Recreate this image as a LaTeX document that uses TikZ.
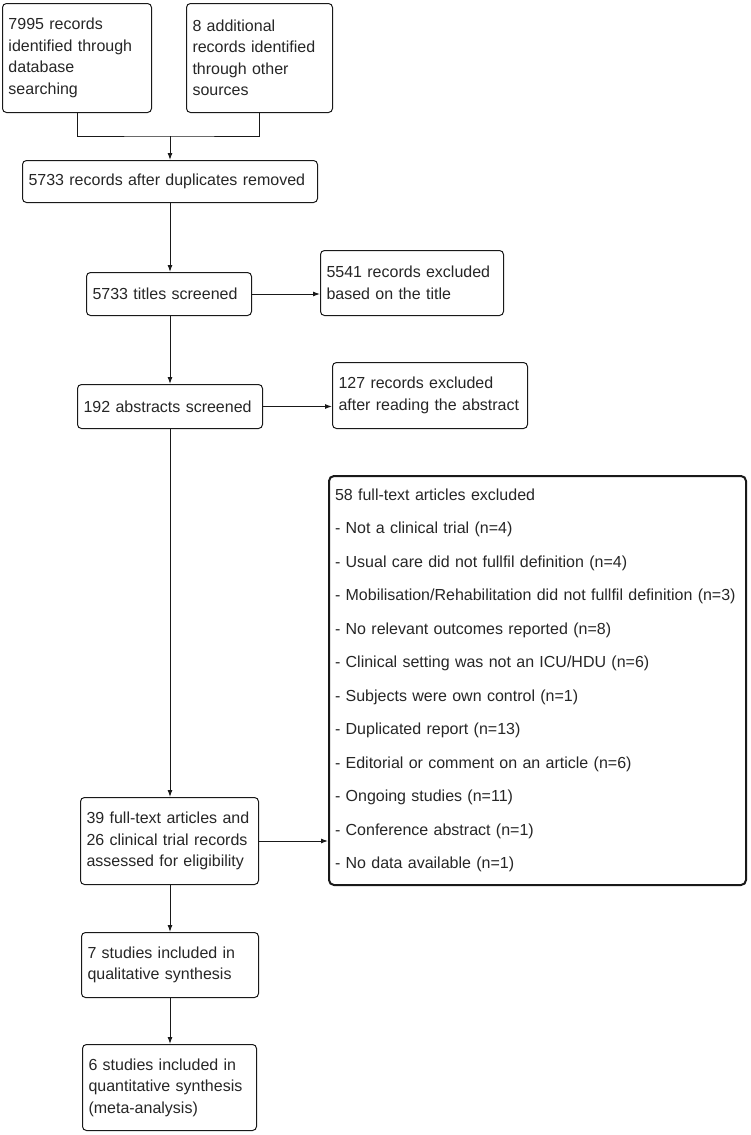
\documentclass[tikz,border=0pt]{standalone}
\usepackage{fontspec}
\setmainfont{Liberation Sans}
\usetikzlibrary{arrows.meta}

\begin{document}
\begin{tikzpicture}[x=1pt, y=-1pt, >={Latex[length=7pt,width=5pt]},
    box/.style={draw=black!90, line width=1pt, rounded corners=4pt, anchor=north west, align=left,
        inner xsep=6pt, inner ysep=4pt, text=black!85,
        font=\fontsize{16}{21.5}\selectfont},
    bigbox/.style={box, line width=2pt, rounded corners=5pt,
        font=\fontsize{16}{33.5}\selectfont},
    flow/.style={->, draw=black!90, line width=1pt}]

    \useasboundingbox (0,0) rectangle (750,1135);

    % === Identification ===
    \node[box, text width=137pt, minimum height=109pt] (dbsearch) at (2,3)
        {7995 records\\identified through\\database\\searching};
    \node[box, text width=134pt, minimum height=109pt] (othersrc) at (186,3)
        {8 additional\\records identified\\through other\\sources};
    \coordinate (join) at (170,136);

    \node[box, text width=283pt, minimum height=42pt] (dedup) at (22,160)
        {5733 records after duplicates removed};

    % === Screening ===
    \node[box, text width=153pt, minimum height=43pt] (titles) at (86,272)
        {5733 titles screened};
    \node[box, text width=171pt, minimum height=65pt] (extitles) at (320,250)
        {5541 records excluded\\based on the title};

    \node[box, text width=173pt, minimum height=44pt] (abstracts) at (77,384)
        {192 abstracts screened};
    \node[box, text width=183pt, minimum height=66pt] (exabstracts) at (332,362)
        {127 records excluded\\after reading the abstract};

    % === Eligibility ===
    \node[box, text width=166pt, minimum height=87pt] (fulltext) at (80,797)
        {39 full-text articles and\\26 clinical trial records\\assessed for eligibility};
    \node[bigbox, text width=405pt, minimum height=409pt] (exfulltext) at (328,475)
        {58 full-text articles excluded\\
         - Not a clinical trial (n=4)\\
         - Usual care did not fullfil definition (n=4)\\
         - Mobilisation/Rehabilitation did not fullfil definition (n=3)\\
         - No relevant outcomes reported (n=8)\\
         - Clinical setting was not an ICU/HDU (n=6)\\
         - Subjects were own control (n=1)\\
         - Duplicated report (n=13)\\
         - Editorial or comment on an article (n=6)\\
         - Ongoing studies (n=11)\\
         - Conference abstract (n=1)\\
         - No data available (n=1)};

    % === Included ===
    \node[box, text width=165pt, minimum height=65pt] (qualitative) at (81,932)
        {7 studies included in\\qualitative synthesis};
    \node[box, text width=162pt, minimum height=86pt] (quantitative) at (82,1044)
        {6 studies included in\\quantitative synthesis\\(meta-analysis)};

    % Connections
    \draw[draw=black!90, line width=1pt] (dbsearch.south) |- (join) -| (othersrc.south);
    \draw[flow] (join) -- (join |- dedup.north);
    \draw[flow] (dedup.south -| join) -- (join |- titles.north);
    \draw[flow] (titles.east) -- (titles.east -| extitles.west);
    \draw[flow] (titles.south -| join) -- (join |- abstracts.north);
    \draw[flow] (abstracts.east) -- (abstracts.east -| exabstracts.west);
    \draw[flow] (abstracts.south -| join) -- (join |- fulltext.north);
    \draw[flow] (fulltext.east) -- (fulltext.east -| exfulltext.west);
    \draw[flow] (fulltext.south -| join) -- (join |- qualitative.north);
    \draw[flow] (qualitative.south -| join) -- (join |- quantitative.north);

\end{tikzpicture}
\end{document}
